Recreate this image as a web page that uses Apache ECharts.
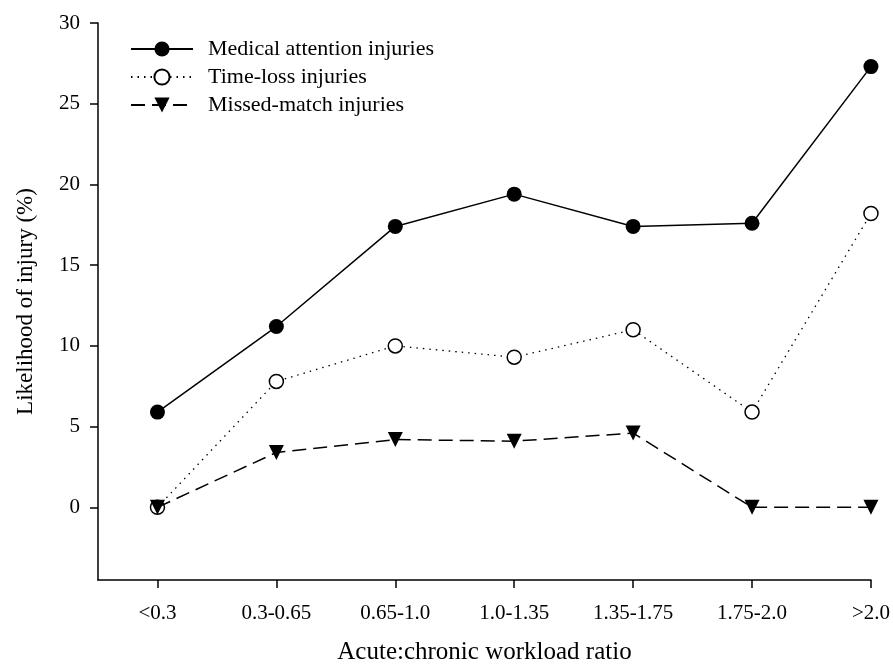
<!DOCTYPE html>
<html><head><meta charset="utf-8">
<script src="https://cdn.jsdelivr.net/npm/echarts@6/dist/echarts.min.js"></script>
<style>html,body{margin:0;padding:0;background:#fff}#c{width:893px;height:670px}</style>
</head><body><div id="c"></div>
<script>
const categories = ['<0.3','0.3-0.65','0.65-1.0','1.0-1.35','1.35-1.75','1.75-2.0','>2.0'];
const medical = [5.9, 11.2, 17.4, 19.4, 17.4, 17.6, 27.3];
const timeLoss = [0, 7.8, 10.0, 9.3, 11.0, 5.9, 18.2];
const missed = [0, 3.4, 4.2, 4.1, 4.6, 0, 0];
const yTicks = [0, 5, 10, 15, 20, 25, 30];
const xTicks = categories.map((c, i) => i);

const font = 'Liberation Serif';
const pair = arr => arr.map((v, i) => [i, v]);
const chart = echarts.init(document.getElementById('c'));
chart.setOption({
  animation: false,
  grid: {left: 98, top: 23, right: 20, bottom: 89, containLabel: false},
  legend: {
    orient: 'vertical', left: 130, top: 38, padding: 0, itemGap: 6,
    itemWidth: 62, itemHeight: 19,
    textStyle: {fontFamily: font, fontSize: 22, color: '#000', padding: [0, 0, 0, 10]},
    data: ['Medical attention injuries', 'Time-loss injuries', 'Missed-match injuries']
  },
  xAxis: {
    type: 'value', min: -0.5, max: 6,
    name: 'Acute:chronic workload ratio', nameLocation: 'middle', nameGap: 60,
    nameTextStyle: {fontFamily: font, fontSize: 25, color: '#000'},
    axisLine: {onZero: false, lineStyle: {color: '#000', width: 1.5}},
    axisTick: {show: true, length: 8, customValues: xTicks, lineStyle: {color: '#000', width: 1.5}},
    axisLabel: {customValues: xTicks, margin: 23, fontFamily: font, fontSize: 21, color: '#000',
      formatter: v => categories[Math.round(v)]},
    splitLine: {show: false}
  },
  yAxis: {
    type: 'value', min: -4.5, max: 30,
    name: 'Likelihood of injury (%)', nameLocation: 'middle', nameGap: 61,
    nameTextStyle: {fontFamily: font, fontSize: 23, color: '#000'},
    axisLine: {show: true, onZero: false, lineStyle: {color: '#000', width: 1.5}},
    axisTick: {show: true, length: 8, customValues: yTicks, lineStyle: {color: '#000', width: 1.5}},
    axisLabel: {customValues: yTicks, margin: 18, fontFamily: font, fontSize: 21, color: '#000'},
    splitLine: {show: false}
  },
  series: [
    {name: 'Medical attention injuries', type: 'line', data: pair(medical),
      symbol: 'circle', symbolSize: 15, z: 3,
      lineStyle: {color: '#000', width: 1.5}, itemStyle: {color: '#000'}},
    {name: 'Time-loss injuries', type: 'line', data: pair(timeLoss),
      symbol: 'circle', symbolSize: 14, z: 2,
      lineStyle: {color: '#000', width: 1.3, type: [1.5, 5]},
      itemStyle: {color: '#fff', borderColor: '#000', borderWidth: 1.5}},
    {name: 'Missed-match injuries', type: 'line', data: pair(missed),
      symbol: 'triangle', symbolRotate: 180, symbolSize: 15, z: 4,
      lineStyle: {color: '#000', width: 1.5, type: [14, 7]}, itemStyle: {color: '#000'}}
  ]
});
</script></body></html>
